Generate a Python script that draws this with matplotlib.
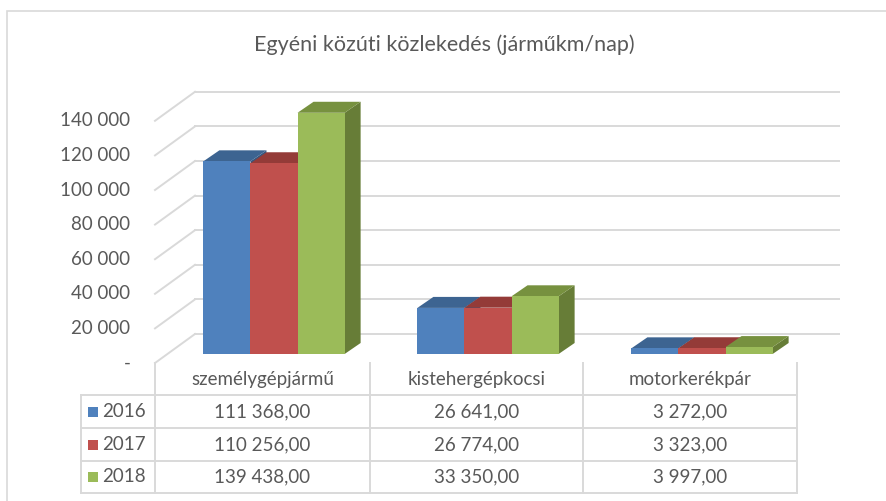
import matplotlib
matplotlib.use("Agg")
import matplotlib.pyplot as plt
from matplotlib.patches import Polygon, Rectangle
from matplotlib.lines import Line2D

# adatok
categories = ["személygépjármű", "kistehergépkocsi", "motorkerékpár"]
years = ["2016", "2017", "2018"]
values_2016 = [111368, 26641, 3272]
values_2017 = [110256, 26774, 3323]
values_2018 = [139438, 33350, 3997]
yticks = [0, 20000, 40000, 60000, 80000, 100000, 120000, 140000]
title = "Egyéni közúti közlekedés (járműkm/nap)"

series = [values_2016, values_2017, values_2018]
front_cols = ["#4F81BD", "#C0504D", "#9BBB59"]
top_cols = ["#3D6491", "#943B38", "#77913F"]
side_cols = ["#37577F", "#7F3331", "#677D37"]
grid_col = "#D9D9D9"
text_col = "#595959"

plt.rcParams["font.family"] = ["Lato", "DejaVu Sans"]

W, H = 886, 501
fig = plt.figure(figsize=(W / 100, H / 100), dpi=100)


def fx(px):
    return px / W


def fy(py):
    return 1 - py / H


# keret
fig.patches.append(Rectangle((fx(7), fy(520)), fx(900), fy(11) - fy(520),
                             transform=fig.transFigure, fill=False,
                             edgecolor=grid_col, lw=1.2))

scale = 0.00173  # px / egység
ax = fig.add_axes([fx(155), fy(363), fx(797) - fx(155), 160000 * scale / H])
ax.set_xlim(0, 3)
ax.set_ylim(0, 160000)
ax.axis("off")

# mélységi eltolások
back_dx, back_dy = 40 / 214, 29 / scale
bar_dx, bar_dy = 12 / 214, 9 / scale
dep_dx, dep_dy = 16 / 214, 11 / scale
wall_right = 3.196

# hátfal rácsvonalak + átlók
for v in yticks:
    ax.plot([back_dx, wall_right], [v + back_dy, v + back_dy], color=grid_col,
            lw=1.4, clip_on=False, zorder=1)
    ax.plot([0, back_dx], [v, v + back_dy], color=grid_col, lw=1.4,
            clip_on=False, zorder=1)
    lab = "-" if v == 0 else f"{v:,}".replace(",", " ")
    ax.text(-0.115, v, lab, ha="right", va="center", fontsize=13.5,
            color=text_col)

# oszlopok
w = 0.22
for i in range(len(categories)):
    for k, vals in enumerate(series):
        x0 = i + 0.5 - 1.5 * w + k * w + bar_dx
        v = vals[i]
        b = bar_dy
        top = b + v
        ax.add_patch(Polygon([(x0 + w, b), (x0 + w + dep_dx, b + dep_dy),
                              (x0 + w + dep_dx, top + dep_dy), (x0 + w, top)],
                             closed=True, facecolor=side_cols[k], lw=0,
                             zorder=3, clip_on=False))
        ax.add_patch(Polygon([(x0, top), (x0 + dep_dx, top + dep_dy),
                              (x0 + w + dep_dx, top + dep_dy), (x0 + w, top)],
                             closed=True, facecolor=top_cols[k], lw=0,
                             zorder=3, clip_on=False))
        ax.bar(x0 + w / 2, v, width=w, bottom=b, color=front_cols[k], lw=0,
               zorder=4, clip_on=False)

fig.text(fx(444), fy(45), title, ha="center", va="center",
         fontsize=15.5, color=text_col)

# adattábla
col_x = [155, 370, 583, 797]
row_y = [363, 395, 428, 461, 493]
leg_x = 81
for xv in col_x:
    fig.add_artist(Line2D([fx(xv), fx(xv)], [fy(row_y[0]), fy(row_y[-1])],
                          color=grid_col, lw=1.4, transform=fig.transFigure))
fig.add_artist(Line2D([fx(leg_x), fx(leg_x)], [fy(row_y[1]), fy(row_y[-1])],
                      color=grid_col, lw=1.4, transform=fig.transFigure))
for yv in row_y[1:]:
    fig.add_artist(Line2D([fx(leg_x), fx(col_x[-1])], [fy(yv), fy(yv)],
                          color=grid_col, lw=1.4, transform=fig.transFigure))


def fmt(v):
    s = f"{v:,.2f}"
    return s.replace(",", " ").replace(".", ",")


for j, cat in enumerate(categories):
    cx = (col_x[j] + col_x[j + 1]) / 2
    fig.text(fx(cx), fy((row_y[0] + row_y[1]) / 2 + 1), cat, ha="center",
             va="center", fontsize=13.5, color=text_col)
    for k, vals in enumerate(series):
        cy = (row_y[k + 1] + row_y[k + 2]) / 2
        fig.text(fx(cx), fy(cy), fmt(vals[j]), ha="center", va="center",
                 fontsize=13.5, color=text_col)

for k, yr in enumerate(years):
    cy = (row_y[k + 1] + row_y[k + 2]) / 2
    fig.patches.append(Rectangle((fx(88), fy(cy + 5)), fx(10), fy(cy - 5) - fy(cy + 5),
                                 transform=fig.transFigure,
                                 facecolor=front_cols[k], lw=0))
    fig.text(fx(102), fy(cy), yr, ha="left", va="center", fontsize=13.5,
             color=text_col)

fig.savefig("out.png", dpi=100, facecolor="white")
